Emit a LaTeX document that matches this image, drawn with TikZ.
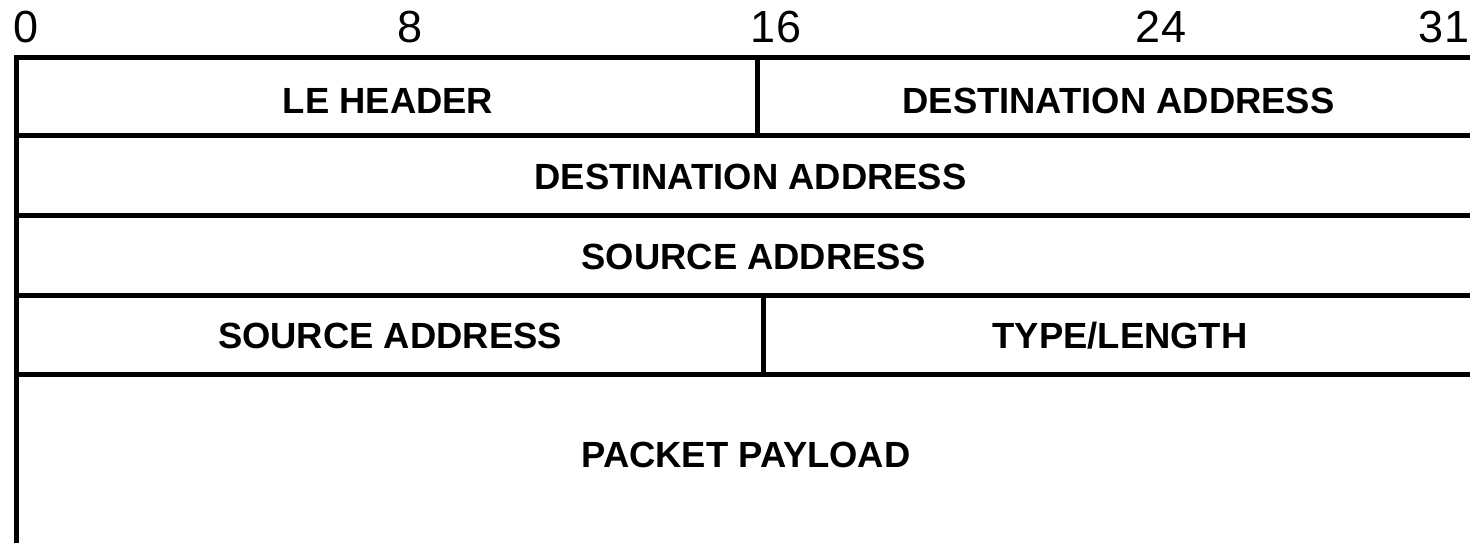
\documentclass[tikz,border=0pt]{standalone}
\usepackage{fontspec}
\setmainfont{Liberation Sans}
\begin{document}
\begin{tikzpicture}[x=0.5pt, y=-0.5pt,
  rule/.style={line width=2.5pt, black, line cap=rect},
  bitnum/.style={inner sep=0pt, anchor=base, font=\fontsize{22.5}{24}\selectfont},
  field/.style={inner sep=0pt, anchor=base, font=\fontsize{18.2}{20}\selectfont\bfseries}]
\useasboundingbox (0,0) rectangle (1470,542);

% bit positions
\node[bitnum] (b0)  at (26,42)   {0};
\node[bitnum] (b8)  at (410,42)  {8};
\node[bitnum] (b16) at (776,42)  {16};
\node[bitnum] (b24) at (1161,42) {24};
\node[bitnum] (b31) at (1444,42) {31};

% frame rows
\draw[rule] (16,57.5) -- (1475,57.5);
\draw[rule] (16,135)  -- (1475,135);
\draw[rule] (16,215)  -- (1475,215);
\draw[rule] (16,295)  -- (1475,295);
\draw[rule] (16,374)  -- (1475,374);
\draw[line width=2.5pt] (16,57.5) -- (16,548);

% field dividers
\draw[rule] (757.5,57.5) -- (757.5,135);
\draw[rule] (763,295) -- (763,374);

% field labels
\node[field] (leh)  at (388,113)   {LE HEADER};
\node[field] (dst1) at (1118.5,113) {DESTINATION ADDRESS};
\node[field] (dst2) at (750.5,189) {DESTINATION ADDRESS};
\node[field] (src1) at (753.5,269) {SOURCE ADDRESS};
\node[field] (src2) at (390,348)   {SOURCE ADDRESS};
\node[field] (tlen) at (1120,348)  {TYPE/LENGTH};
\node[field] (pay)  at (746,467)   {PACKET PAYLOAD};
\end{tikzpicture}
\end{document}
